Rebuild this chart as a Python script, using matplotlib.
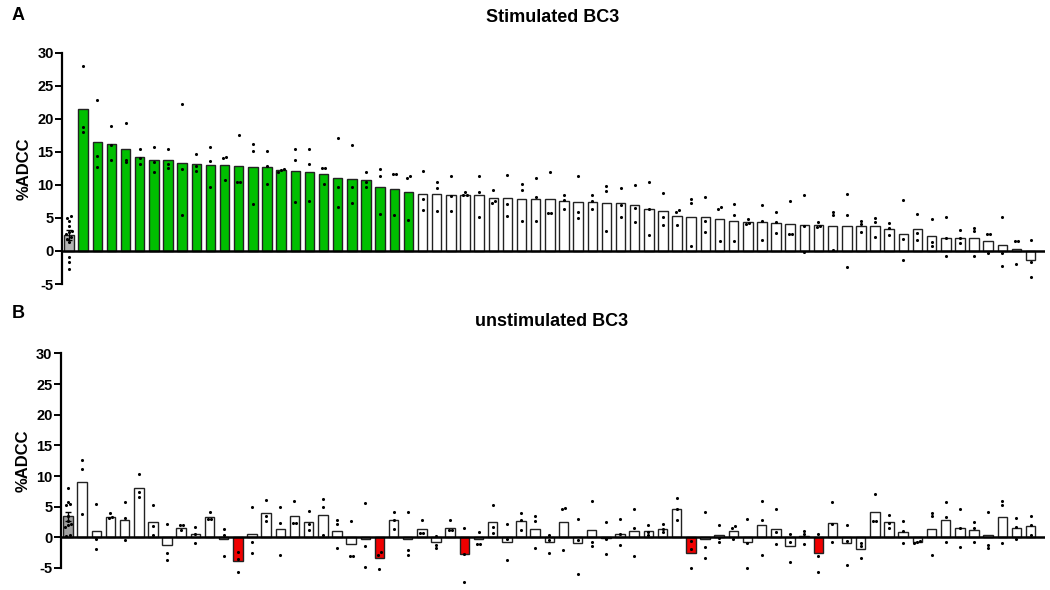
# -*- coding: utf-8 -*-

import numpy as np
import matplotlib
matplotlib.use('Agg')
import matplotlib.pyplot as plt

plt.rcParams['font.family'] = ['Liberation Sans', 'DejaVu Sans']
plt.rcParams['font.weight'] = 'bold'
plt.rcParams['axes.unicode_minus'] = False

# ---- data ----
# panel A: control bar, 24 green samples, 44 white samples
stim_ctrl = 2.4
stim_green = [21.5, 16.5, 16.2, 15.5, 14.2, 13.7, 13.7, 13.3, 13.2, 13.0, 13.0, 12.8,
              12.7, 12.7, 12.2, 12.1, 12.0, 11.7, 11.05, 10.95, 10.7, 9.7, 9.4, 9.0]
stim_white = [8.67, 8.67, 8.5, 8.46, 8.4, 7.96, 7.96, 7.9, 7.9, 7.8, 7.5, 7.45, 7.4, 7.3,
              7.2, 6.9, 6.4, 6.0, 5.3, 5.2, 5.2, 4.87, 4.6, 4.36, 4.36, 4.3, 4.1, 4.0, 3.9,
              3.85, 3.85, 3.85, 3.75, 3.3, 2.6, 3.3, 2.2, 2.0, 2.0, 2.0, 1.5, 0.86, 0.3, -1.3]

stim_ctrl_pts = [5.3, 5.0, 4.6, 3.8, 3.1, 2.8, 2.5, 2.1, 1.8, 1.4, -0.9, -1.7, -2.7]
stim_pts = [
    [28.0, 18.7, 18.0], [22.8, 14.3, 12.7], [18.9, 16.0, 13.8], [19.4, 13.8, 13.4],
    [15.5, 14.0, 13.1], [15.8, 13.4, 12.0], [15.5, 13.2, 12.5], [22.3, 12.4, 5.5],
    [14.7, 12.9, 12.1], [15.8, 13.6, 9.7], [14.2, 14.0, 10.8], [17.5, 10.5, 10.4],
    [16.2, 15.1, 7.1], [15.1, 12.9, 10.2], [12.4, 12.2, 12.0], [15.5, 13.7, 7.4],
    [15.5, 13.2, 7.6], [12.6, 12.5, 10.2], [17.1, 9.7, 6.6], [16.0, 9.7, 7.3],
    [12.0, 10.5, 9.7], [12.4, 11.3, 5.6], [11.7, 11.7, 5.4], [11.3, 11.1, 4.7],
    # white
    [12.1, 7.9, 6.2], [10.4, 9.5, 6.1], [11.4, 8.3, 6.1], [8.9, 8.4, 8.4],
    [11.3, 8.9, 5.2], [9.2, 7.6, 7.3], [11.5, 7.1, 5.3], [10.1, 9.3, 4.6],
    [11.0, 8.2, 4.5], [12.0, 5.8, 5.8], [8.4, 7.7, 6.3], [11.4, 5.9, 5.0],
    [8.5, 7.5, 6.3], [9.9, 9.1, 3.1], [9.6, 7.0, 5.1], [10.0, 6.5, 4.4],
    [10.5, 6.4, 2.4], [8.8, 5.2, 4.0], [6.2, 5.9, 4.0], [7.9, 7.3, 0.7],
    [8.2, 4.5, 2.9], [6.7, 6.4, 1.5], [7.1, 5.4, 1.5], [4.9, 4.2, 4.1],
    [6.9, 4.5, 1.6], [5.9, 4.4, 2.7], [7.5, 2.5, 2.5], [8.5, 3.8, -0.2],
    [4.4, 3.8, 3.6], [5.9, 5.5, 0.2], [8.6, 5.5, -2.4], [4.6, 4.1, 2.9],
    [5.0, 4.4, 2.1], [4.2, 3.5, 2.4], [7.7, 1.8, -1.4], [5.6, 2.7, 1.6],
    [4.9, 1.4, 0.7], [5.1, 2.0, -0.7], [3.2, 2.0, 1.2], [3.5, 3.1, -0.8],
    [2.6, 2.6, -0.3], [5.2, -0.3, -2.2], [1.5, 1.5, -1.9], [1.6, -1.6, -4.0],
]

# panel B: control bar + 68 samples, red ones flagged by index (1-based after control)
unstim_ctrl = 3.4
unstim_vals = [9.1, 1.0, 3.3, 2.8, 8.0, 2.45, -1.25, 1.6, 0.5, 3.3, -0.3, -3.8,
               0.5, 4.0, 1.4, 3.4, 2.55, 3.7, 1.0, -1.1, -0.2, -3.3, 2.8, -0.3,
               1.3, -0.8, 1.6, -2.7, -0.3, 2.55, -0.7, 2.6, 1.3, -0.75, 2.45, -1.0,
               1.25, -0.15, 0.55, 1.0, 1.1, 1.4, 4.6, -2.5, -0.3, 0.3, 1.0, -0.8,
               2.0, 1.4, -1.35, 0.15, -2.6, 2.3, -1.0, -1.85, 4.1, 2.55, 0.8, -0.75,
               1.4, 2.8, 1.5, 1.15, 0.4, 3.3, 1.5, 1.9]
unstim_red = [12, 22, 28, 44, 53]

unstim_ctrl_pts = [8.0, 5.8, 5.4, 5.2, 3.4, 2.7, 2.1, 2.0, 1.7, 0.3, 0.2]
unstim_pts = [
    [12.6, 11.1, 3.75], [5.4, -0.3, -1.9], [3.9, 3.3, 3.2], [5.8, 3.2, -0.5],
    [10.3, 7.4, 6.5], [5.3, 1.9, 0.3], [2.1, -2.5, -3.7], [2.0, 2.0, 1.2],
    [1.7, 0.5, -0.9], [4.2, 3.0, 3.0], [1.4, 0.4, -3.0], [-2.4, -3.6, -5.65],
    [4.9, -0.8, -2.6], [6.1, 3.4, 2.7], [4.9, 2.3, -2.8], [5.9, 2.4, 2.4],
    [4.3, 2.2, 1.2], [6.2, 4.9, 0.3], [2.8, 2.1, -1.8], [2.6, -3.1, -3.1],
    [5.6, -1.4, -4.9], [-2.45, -2.8, -5.1], [4.2, 2.8, 1.3], [4.1, -2.1, -2.9],
    [2.8, 0.65, 0.65], [0.2, -1.25, -1.7], [2.8, 1.2, 1.2], [1.5, -2.7, -7.3],
    [0.9, -1.1, -1.1], [5.2, 1.7, 0.65], [2.1, -0.3, -3.75], [3.9, 2.9, 1.2],
    [3.4, 2.7, -1.7], [0.4, -0.4, -2.55], [4.8, 4.7, -2.1], [3.0, -0.4, -6.0],
    [6.0, -0.8, -1.4], [2.55, -0.3, -2.7], [3.0, 0.5, -1.3], [4.6, 1.5, -3.0],
    [2.0, 0.8, 0.3], [2.1, 1.4, 0.8], [6.4, 4.6, 2.8], [-0.65, -1.85, -5.0],
    [4.1, -1.6, -3.3], [2.0, -0.1, -0.75], [1.9, 1.6, -0.3], [3.0, -1.0, -5.0],
    [6.0, 2.8, -2.9], [4.7, 0.9, -1.1], [0.6, -0.8, -4.0], [1.1, 0.5, -1.1],
    [0.5, -3.0, -5.6], [5.7, 2.1, -0.75], [2.0, -0.65, -4.5], [-1.0, -1.4, -3.4],
    [7.0, 2.7, 2.7], [3.6, 2.3, 1.6], [2.7, 1.0, -1.0], [-0.6, -0.8, -0.9],
    [3.9, 3.4, -2.8], [5.7, 3.3, -0.75], [4.7, 1.5, -1.6], [2.5, 1.6, -0.7],
    [4.1, -1.2, -1.7], [5.9, 5.2, -1.0], [3.2, 1.7, -0.2], [3.5, 2.0, 0.4],
]


def spread(vals, tol):
    # horizontal offsets so that close points sit side by side
    vals = np.asarray(vals, float)
    order = np.argsort(vals)
    offs = np.zeros(len(vals))
    groups, cur = [], [order[0]]
    for i in order[1:]:
        if vals[i] - vals[cur[-1]] < tol:
            cur.append(i)
        else:
            groups.append(cur)
            cur = [i]
    groups.append(cur)
    for g in groups:
        k = len(g)
        for j, i in enumerate(g):
            offs[i] = (j - (k - 1) / 2.) * 0.22
    return offs


def panel(ax, ctrl, ctrl_pts, vals, pts, colors, ctrl_color, tol):
    x = np.arange(len(vals) + 1)
    heights = [ctrl] + list(vals)
    ax.bar(x, heights, 0.67, color=[ctrl_color] + colors, edgecolor='#222222',
           linewidth=1.0, zorder=2)
    sem = np.std(ctrl_pts, ddof=1) / np.sqrt(len(ctrl_pts))
    ax.errorbar(0, ctrl, yerr=sem, color='black', capsize=2, lw=1.0, zorder=3)
    allpts = [ctrl_pts] + pts
    for i, p in enumerate(allpts):
        off = spread(p, tol)
        ax.scatter(i + off, p, s=5, color='black', zorder=4, clip_on=False,
                   linewidths=0)
    ax.axhline(0, color='black', lw=1.8, zorder=5)
    ax.set_xlim(-0.5, 69.0)
    ax.set_ylim(-5, 30)
    ax.set_yticks([-5, 0, 5, 10, 15, 20, 25, 30])
    ax.set_xticks([])
    for s in ['top', 'right', 'bottom']:
        ax.spines[s].set_visible(False)
    ax.spines['left'].set_linewidth(1.6)
    ax.tick_params(axis='y', direction='out', length=5, width=1.4, labelsize=10.5, pad=1)
    for lab in ax.get_yticklabels():
        lab.set_fontweight('bold')
    ax.set_ylabel('%ADCC', fontsize=12, fontweight='bold', labelpad=4)
    ax.patch.set_visible(False)


fig = plt.figure(figsize=(10.5, 5.9), dpi=100)
ax1 = fig.add_axes([0.059, 0.5186, 0.936, 0.392])
ax2 = fig.add_axes([0.058, 0.0373, 0.937, 0.3637])

top_colors = ['#00bf00'] * len(stim_green) + ['white'] * len(stim_white)
panel(ax1, stim_ctrl, stim_ctrl_pts, stim_green + stim_white, stim_pts, top_colors,
      '#b4b4b4', 0.35)

bot_colors = ['#f00000' if (i + 1) in unstim_red else 'white' for i in range(len(unstim_vals))]
panel(ax2, unstim_ctrl, unstim_ctrl_pts, unstim_vals, unstim_pts, bot_colors,
      '#a0a0a0', 0.35)

fig.text(0.526, 1 - 18 / 590., 'Stimulated BC3', fontsize=13, fontweight='bold',
         ha='center', va='center')
fig.text(0.525, 1 - 321 / 590., 'unstimulated BC3', fontsize=13, fontweight='bold',
         ha='center', va='center')
fig.text(0.011, 1 - 15 / 590., 'A', fontsize=13, fontweight='bold', va='center')
fig.text(0.011, 1 - 313 / 590., 'B', fontsize=13, fontweight='bold', va='center')

fig.savefig('out.png', dpi=100)
